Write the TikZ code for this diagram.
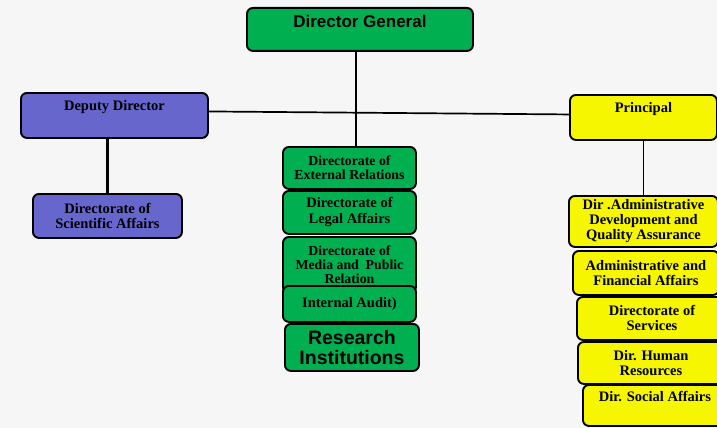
\documentclass[tikz,border=0pt]{standalone}
\usepackage{fontspec}
\setmainfont{Liberation Serif}
\newfontfamily\arialfont{Liberation Sans}
\definecolor{dggreen}{RGB}{0,176,80}
\definecolor{depblue}{RGB}{102,102,204}
\definecolor{prinyellow}{RGB}{246,246,0}
\definecolor{bgpaper}{RGB}{246,246,246}

\begin{document}
\begin{tikzpicture}[x=1pt, y=-1pt,
  box/.style={draw=black, line width=1.9pt, rounded corners=6pt, anchor=north west, align=center, inner sep=0pt, font=\bfseries\fontsize{14.5}{15}\selectfont},
  gbox/.style={box, fill=dggreen},
  bbox/.style={box, fill=depblue},
  ybox/.style={box, fill=prinyellow},
  small/.style={font=\bfseries\fontsize{13.8}{13.8}\selectfont},
  sans/.style={font=\arialfont\bfseries\fontsize{#1}{#1}\selectfont},
  high/.style={text height=10pt, text depth=#1},
  link/.style={line width=1.7pt}]
            \useasboundingbox (0,0) rectangle (717,428);
            \clip (0,0) rectangle (717,428);
            \fill[bgpaper] (0,0) rectangle (717,428);

            \node[gbox,sans=17,text height=11pt,text depth=14pt,minimum width=226pt,minimum height=43pt] (dg) at (246,7) {Director General};
            \node[bbox,high=19pt,minimum width=187pt,minimum height=45pt] (deputy) at (20,92) {Deputy Director};
            \node[ybox,high=19pt,minimum width=147pt,minimum height=45pt] (principal) at (569,94) {Principal};

            \node[bbox,minimum width=149pt,minimum height=44pt] (sci) at (32,193) {Directorate of\\Scientific Affairs};

            \node[gbox,small,minimum width=133pt,minimum height=42pt] (ext) at (282,146) {Directorate of\\External Relations};
            \node[gbox,font=\bfseries\fontsize{14.5}{16}\selectfont,minimum width=133pt,minimum height=43pt] (legal) at (282,190) {Directorate of\\Legal Affairs};
            \node[gbox,small,minimum width=133pt,minimum height=56pt] (media) at (282,236) {Directorate of\\Media and\ \ Public\\Relation};
            \node[gbox,minimum width=133pt,minimum height=36pt] (audit) at (282,285) {Internal Audit)};
            \node[gbox,sans=19.5,minimum width=134pt,minimum height=47pt] (research) at (284,323) {Research\\Institutions};

            \node[ybox,minimum width=149pt,minimum height=51pt] (admdev) at (568,195) {Dir .Administrative\\Development and\\Quality Assurance};
            \node[ybox,minimum width=146pt,minimum height=44pt] (finance) at (572,250) {Administrative and\\Financial Affairs};
            \node[ybox,minimum width=150pt,minimum height=43pt] (services) at (576,296) {Directorate of\\Services};
            \node[ybox,minimum width=146pt,minimum height=42pt] (hr) at (577,341) {Dir. Human\\Resources};
            \node[ybox,high=17pt,minimum width=144pt,minimum height=41pt] (social) at (582,384) {Dir. Social Affairs};

            \draw[link] ([xshift=-4pt]dg.south) -- ([xshift=-4pt]dg.south |- ext.north);
            \draw[link] ([yshift=4pt]deputy.east) -- ([yshift=3pt]principal.west);
            \draw[line width=3.4pt] (sci.north) -- (sci.north |- deputy.south);
            \draw[link] (principal.south) -- (principal.south |- admdev.north);
\end{tikzpicture}
\end{document}
